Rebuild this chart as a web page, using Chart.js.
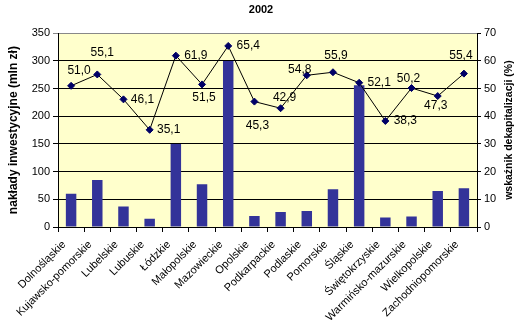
<!DOCTYPE html>
<html>
<head>
<meta charset="utf-8">
<script src="https://cdn.jsdelivr.net/npm/chart.js@4"></script>
<style>
  html, body { margin: 0; padding: 0; background: #fff; }
  #wrap { width: 522px; height: 329px; }
</style>
</head>
<body>
<div id="wrap"><canvas id="chart" width="522" height="329"></canvas></div>
<script>
const regions = ["Dolnośląskie", "Kujawsko-pomorskie", "Lubelskie", "Lubuskie", "Łódzkie",
  "Małopolskie", "Mazowieckie", "Opolskie", "Podkarpackie", "Podlaskie", "Pomorskie",
  "Śląskie", "Świętokrzyskie", "Warmińsko-mazurskie", "Wielkopolskie", "Zachodniopomorskie"];

// naklady inwestycyjne (mln zl)
const investment = [60, 85, 37, 15, 150, 77, 300, 20, 27, 29, 68, 256, 17, 19, 65, 70];

// wskaznik dekapitalizacji (%)
const decap = [51.0, 55.1, 46.1, 35.1, 61.9, 51.5, 65.4, 45.3, 42.9, 54.8, 55.9, 52.1, 38.3, 50.2, 47.3, 55.4];

const leftTicks = [0, 50, 100, 150, 200, 250, 300, 350];
const rightTicks = [0, 10, 20, 30, 40, 50, 60, 70];

// where excel put each data label, relative to its point
const labelShift = [[8, -15], [5, -22], [19, 0], [19, 0], [20, 0], [2, 13], [20, 0], [3, 24],
  [4, -11], [-7, -6], [3, -17], [20, 0], [20, 0], [-3, -9], [-2, 10], [-3, -18]];

const FONT = "'Liberation Sans', Arial, sans-serif";

const plotBg = {
  id: 'plotBg',
  beforeDraw(chart) {
    const { ctx, chartArea: a } = chart;
    ctx.save();
    ctx.fillStyle = '#FFFFCC';
    ctx.fillRect(a.left, a.top, a.right - a.left, a.bottom - a.top);
    ctx.restore();
  }
};

const extras = {
  id: 'extras',
  afterDatasetsDraw(chart) {
    const { ctx, chartArea: a } = chart;
    const meta = chart.getDatasetMeta(1);
    ctx.save();
    ctx.font = '12px ' + FONT;
    ctx.fillStyle = '#000';
    ctx.textAlign = 'center';
    ctx.textBaseline = 'middle';
    meta.data.forEach((pt, i) => {
      const s = labelShift[i];
      ctx.fillText(decap[i].toFixed(1).replace('.', ','), pt.x + s[0], pt.y + s[1]);
    });
    // right axis title, reading bottom-to-top like the left one
    ctx.font = 'bold 10.5px ' + FONT;
    ctx.translate(509, (a.top + a.bottom) / 2);
    ctx.rotate(-Math.PI / 2);
    ctx.fillText('wskaźnik dekapitalizacji (%)', 0, 0);
    ctx.restore();
  }
};

new Chart(document.getElementById('chart'), {
  data: {
    labels: regions,
    datasets: [
      {
        type: 'bar',
        label: 'nakłady inwestycyjne',
        data: investment,
        backgroundColor: '#333399',
        barPercentage: 0.4,
        categoryPercentage: 1,
        yAxisID: 'y',
        order: 2
      },
      {
        type: 'line',
        label: 'wskaźnik dekapitalizacji',
        data: decap,
        borderColor: '#000',
        borderWidth: 1,
        pointStyle: 'rectRot',
        pointRadius: 3.5,
        pointBackgroundColor: '#000066',
        pointBorderColor: '#000066',
        yAxisID: 'y1',
        order: 1
      }
    ]
  },
  options: {
    responsive: false,
    animation: false,
    layout: { padding: 0 },
    plugins: {
      legend: { display: false },
      tooltip: { enabled: false },
      title: {
        display: true,
        text: '2002',
        color: '#000',
        font: { family: FONT, size: 11, weight: 'bold' },
        padding: { top: 3, bottom: 17 }
      }
    },
    scales: {
      x: {
        grid: { offset: true, drawOnChartArea: false, color: '#000', tickLength: 5 },
        border: { color: '#000' },
        ticks: {
          color: '#000', autoSkip: false, maxRotation: 45, minRotation: 45,
          padding: 6, labelOffset: -7,
          font: { family: FONT, size: 11 }
        },
        afterFit(scale) { scale.height = 102; }
      },
      y: {
        position: 'left',
        min: 0, max: 350,
        afterBuildTicks(scale) { scale.ticks = leftTicks.map(v => ({ value: v })); },
        grid: {
          color: ctx => ctx.tick && ctx.tick.value === 350 ? '#888' : '#000',
          tickLength: 5
        },
        border: { color: '#000' },
        ticks: { color: '#000', padding: 3, font: { family: FONT, size: 11 } },
        title: {
          display: true,
          text: 'nakłady inwestycyjne (mln zł)',
          color: '#000',
          font: { family: FONT, size: 12, weight: 'bold' },
          padding: { top: 6, bottom: 0 }
        },
        afterFit(scale) { scale.width = 58; }
      },
      y1: {
        position: 'right',
        min: 0, max: 70,
        afterBuildTicks(scale) { scale.ticks = rightTicks.map(v => ({ value: v })); },
        grid: { drawOnChartArea: false, color: '#000', tickLength: 4 },
        border: { color: '#000' },
        ticks: { color: '#000', padding: 3, font: { family: FONT, size: 11 } },
        afterFit(scale) { scale.width = 45; }
      }
    }
  },
  plugins: [plotBg, extras]
});
</script>
</body>
</html>
